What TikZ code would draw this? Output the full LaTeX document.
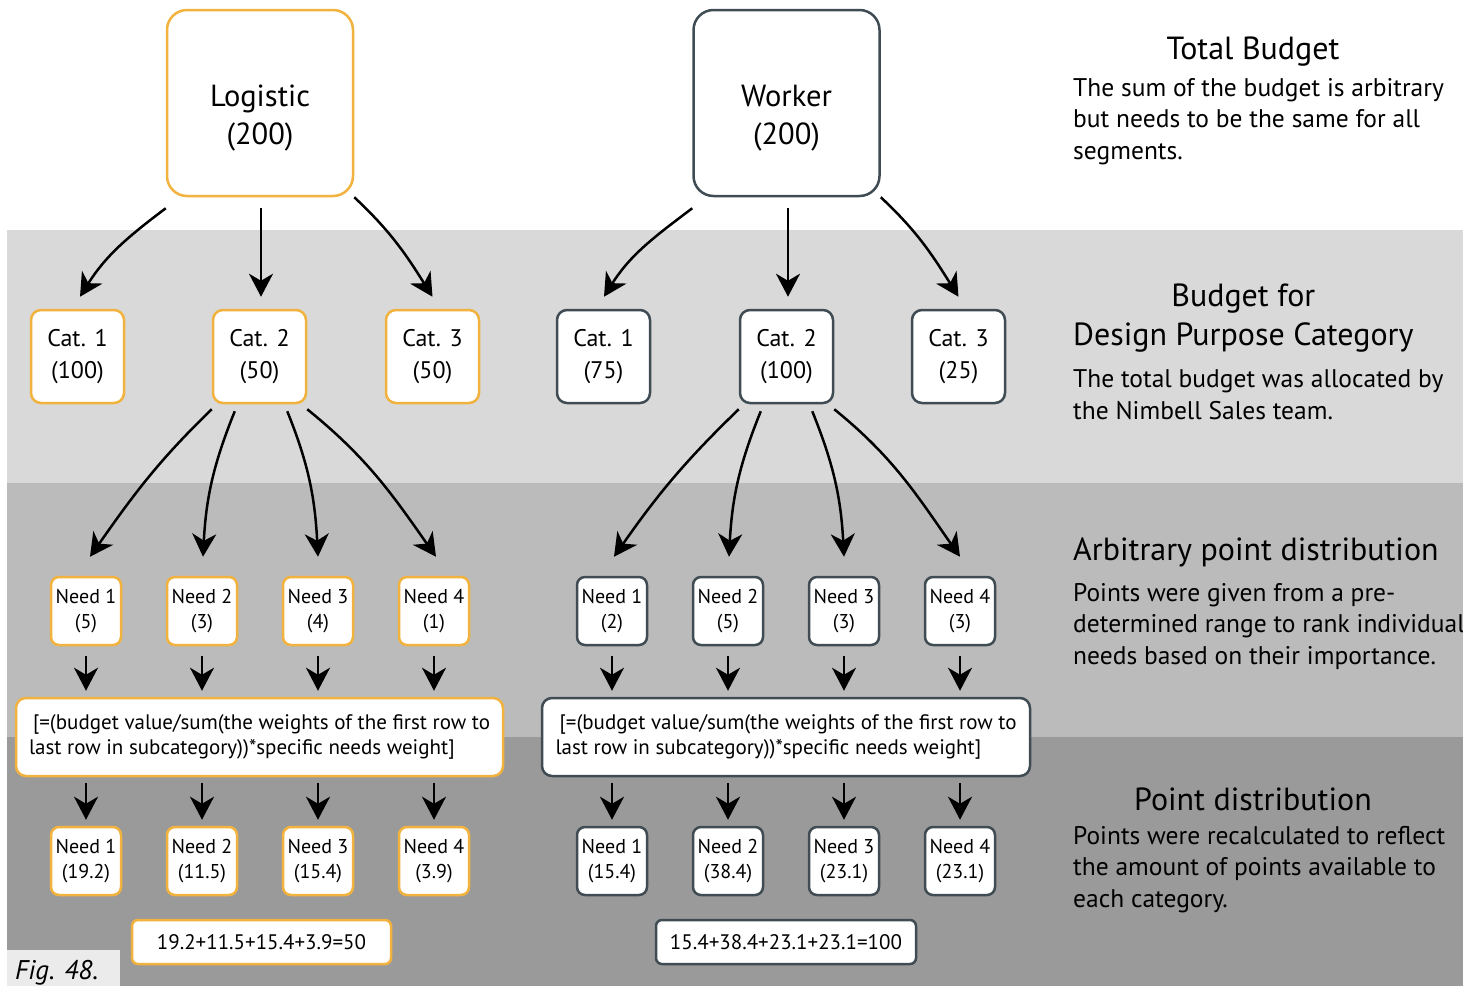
\documentclass[tikz,border=0pt]{standalone}
\usepackage{fontspec}
\setmainfont{PT Sans}
\usetikzlibrary{arrows.meta}

\tikzset{
  box/.style={draw, fill=white, line width=2.5pt, align=center, inner sep=0pt},
  topbox/.style={box, rounded corners=20pt, minimum width=186pt, minimum height=186pt},
  toptxt/.style={align=center, inner sep=0pt, anchor=base, font=\fontsize{30.5}{38}\selectfont},
  catbox/.style={box, rounded corners=10pt, minimum width=93pt, minimum height=93pt, font=\fontsize{24}{32}\selectfont, execute at begin node=\rule{0pt}{25pt}},
  needbox/.style={box, rounded corners=8pt, minimum width=70pt, minimum height=68pt, font=\fontsize{20}{25.5}\selectfont},
  formbox/.style={box, rounded corners=10pt, minimum width=487pt, minimum height=78pt, align=left, font=\fontsize{21}{25.5}\selectfont},
  sumbox/.style={box, rounded corners=6pt, minimum width=259pt, minimum height=44pt, font=\fontsize{21}{24}\selectfont},
  arr/.style={line width=2.5pt, -{Stealth[length=23pt,width=24pt,inset=7pt]}},
  headtxt/.style={font=\fontsize{32}{39}\selectfont, inner sep=0pt, align=center},
  bodytxt/.style={font=\fontsize{25.5}{31.5}\selectfont, align=left, inner sep=0pt, anchor=base west},
}

\begin{document}
\begin{tikzpicture}[x=1pt,y=1pt]
  \definecolor{bandOne}{HTML}{D9D9D9}
  \definecolor{bandTwo}{HTML}{BBBBBB}
  \definecolor{bandThree}{HTML}{9A9A9A}
  \definecolor{figFill}{HTML}{EBEBEB}
  \definecolor{logColour}{HTML}{F2B23E}
  \definecolor{workColour}{HTML}{404C54}

  \useasboundingbox (0,0) rectangle (1474,-986);
  \fill[white] (0,0) rectangle (1474,-986);

  % background bands
  \fill[bandOne] (7,-230) rectangle (1463,-483);
  \fill[bandTwo] (7,-483) rectangle (1463,-737);
  \fill[bandThree] (7,-737) rectangle (1463,-986);

  % segments
  \node[topbox, draw=logColour] (log) at (260,-103) {};
  \node[toptxt] (logtxt) at ([yshift=-41pt]log.center) {Logistic\\(200)};
  \node[topbox, draw=workColour] (wrk) at (786.5,-103) {};
  \node[toptxt] (wrktxt) at ([yshift=-41pt]wrk.center) {Worker\\(200)};

  % categories
  \foreach \i/\x/\v in {1/77.5/100, 2/259.5/50, 3/432.5/50}
    \node[catbox, draw=logColour] (lc\i) at (\x,-356.5) {Cat. \i\\(\v)};
  \foreach \i/\x/\v in {1/603.5/75, 2/786.5/100, 3/958.5/25}
    \node[catbox, draw=workColour] (wc\i) at (\x,-356.5) {Cat. \i\\(\v)};

  \draw[arr] ([yshift=-11pt]log.south west) to[out=-143,in=58] ([xshift=2.5pt,yshift=12pt]lc1.north);
  \draw[arr] ([xshift=1pt,yshift=-11pt]log.south) -- ([xshift=1.5pt,yshift=12pt]lc2.north);
  \draw[arr] (log.south east) to[out=-43,in=122] ([yshift=12pt]lc3.north);
  \draw[arr] ([yshift=-11pt]wrk.south west) to[out=-143,in=58] ([xshift=0.5pt,yshift=12pt]wc1.north);
  \draw[arr] ([xshift=1.5pt,yshift=-11pt]wrk.south) -- ([xshift=1.5pt,yshift=12pt]wc2.north);
  \draw[arr] (wrk.south east) to[out=-43,in=122] ([yshift=12pt]wc3.north);

  % needs, weights and recalculated points
  \node[formbox, draw=logColour] (lf) at (259.5,-737) {\hspace{4pt}[=(budget value/sum(the weights of the first row to\\last row in subcategory))*specific needs weight]};
  \node[formbox, draw=workColour, minimum width=488pt] (wf) at (786,-737) {\hspace{4pt}[=(budget value/sum(the weights of the first row to\\last row in subcategory))*specific needs weight]};

  \foreach \i/\x/\a/\b in {1/86/5/19.2, 2/202/3/11.5, 3/318/4/15.4, 4/434/1/3.9} {
    \node[needbox, draw=logColour] (ln\i) at (\x,-611) {Need \i\\(\a)};
    \node[needbox, draw=logColour] (lr\i) at (\x,-861) {Need \i\\(\b)};
    \draw[arr] ([yshift=-10pt]ln\i.south) -- ([yshift=6pt]ln\i.south |- lf.north);
    \draw[arr] ([yshift=-6pt]lf.south -| lr\i) -- ([yshift=6pt]lr\i.north);
  }
  \foreach \i/\x/\a/\b in {1/612/2/15.4, 2/728/5/38.4, 3/844/3/23.1, 4/960/3/23.1} {
    \node[needbox, draw=workColour] (wn\i) at (\x,-611) {Need \i\\(\a)};
    \node[needbox, draw=workColour] (wr\i) at (\x,-861) {Need \i\\(\b)};
    \draw[arr] ([yshift=-10pt]wn\i.south) -- ([yshift=6pt]wn\i.south |- wf.north);
    \draw[arr] ([yshift=-6pt]wf.south -| wr\i) -- ([yshift=6pt]wr\i.north);
  }

  \draw[arr] ([yshift=-5pt]lc2.south west) to[out=-136,in=55] ([xshift=4pt,yshift=19pt]ln1.north);
  \draw[arr] ([xshift=23pt,yshift=-7pt]lc2.south west) to[out=-112,in=87] ([xshift=1pt,yshift=19pt]ln2.north);
  \draw[arr] ([xshift=-20pt,yshift=-7pt]lc2.south east) to[out=-68,in=93] ([yshift=19pt]ln3.north);
  \draw[arr] ([yshift=-5pt]lc2.south east) to[out=-39,in=125] ([xshift=2pt,yshift=19pt]ln4.north);
  \draw[arr] ([yshift=-5pt]wc2.south west) to[out=-136,in=55] ([xshift=2pt,yshift=19pt]wn1.north);
  \draw[arr] ([xshift=22pt,yshift=-7pt]wc2.south west) to[out=-112,in=87] ([xshift=1pt,yshift=19pt]wn2.north);
  \draw[arr] ([xshift=-22pt,yshift=-7pt]wc2.south east) to[out=-68,in=93] ([yshift=19pt]wn3.north);
  \draw[arr] ([yshift=-5pt]wc2.south east) to[out=-39,in=125] ([yshift=19pt]wn4.north);

  % sums
  \node[sumbox, draw=logColour] (lsum) at (261.5,-942) {19.2+11.5+15.4+3.9=50};
  \node[sumbox, draw=workColour, minimum width=260pt] (wsum) at (786,-942) {15.4+38.4+23.1+23.1=100};

  % explanations
  \node[headtxt, anchor=base] (tbhead) at (1253,-59) {Total Budget};
  \node[bodytxt] (tbbody) at (1073,-159) {The sum of the budget is arbitrary\\but needs to be the same for all\\segments.};
  \node[headtxt, anchor=base west] (cathead) at (1073,-345) {Budget for\\Design Purpose Category};
  \node[bodytxt] (catbody) at (1073,-419) {The total budget was allocated by\\the Nimbell Sales team.};
  \node[headtxt, anchor=base west] (arbhead) at (1073,-560) {Arbitrary point distribution};
  \node[bodytxt] (arbbody) at (1073,-664) {Points were given from a pre-\\determined range to rank individual\\needs based on their importance.};
  \node[headtxt, anchor=base] (pthead) at (1253,-810) {Point distribution};
  \node[bodytxt] (ptbody) at (1073,-907) {Points were recalculated to reflect\\the amount of points available to\\each category.};

  \fill[white] (1463,0) rectangle (1474,-986);

  \fill[figFill] (7,-950) rectangle (120,-986);
  \node[anchor=base west, inner sep=0pt, font=\fontsize{27}{32}\selectfont\itshape] (fig) at (15,-979) {Fig. 48.};
\end{tikzpicture}
\end{document}
